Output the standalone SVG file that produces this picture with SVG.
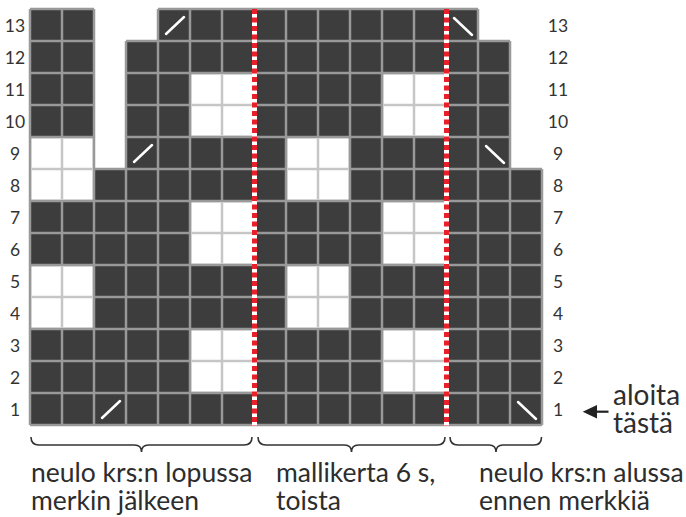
<svg xmlns="http://www.w3.org/2000/svg" xmlns:xlink="http://www.w3.org/1999/xlink" width="686" height="517" viewBox="0 0 686 517">
<style>
.num{font-family:Lato,"Liberation Sans",sans-serif;font-size:17.5px;fill:#333;text-anchor:middle}
.cap{font-family:Lato,"Liberation Sans",sans-serif;font-size:26.5px;fill:#2d2d2d}
.start{font-size:28px}
.grid{fill:none;stroke:#999;stroke-width:2.5}
.sl{stroke:#fff;stroke-width:2.5;stroke-linecap:round;fill:none}
.brace{fill:none;stroke:#333;stroke-width:1.6}
</style>
<defs>
<g id="wb">
<rect x="1.25" y="1.25" width="61.5" height="61.5" fill="#fff"/>
<path d="M32 1.25V62.75M1.25 32H62.75" stroke="#c6c6c6" stroke-width="2.5" fill="none"/>
</g>
<path id="fs" class="sl" d="M8 25L26 8"/>
<path id="bs" class="sl" d="M8 9L26 26"/>
</defs>
<rect width="686" height="517" fill="#fff"/>
<g id="chart">
<path id="knit-area" fill="#3d3d3d" d="M30 9H94V169H126V41H158V9H478V41H510V169H542V425H30Z"/>
<path id="grid-lines" class="grid" d="M30 9H94M158 9H478M30 41H94M126 41H510M30 73H94M126 73H510M30 105H94M126 105H510M30 137H94M126 137H510M30 169H542M30 201H542M30 233H542M30 265H542M30 297H542M30 329H542M30 361H542M30 393H542M30 425H542M30 9V425M62 9V425M94 9V425M126 41V425M158 9V425M190 9V425M222 9V425M254 9V425M286 9V425M318 9V425M350 9V425M382 9V425M414 9V425M446 9V425M478 9V425M510 41V425M542 169V425"/>
<g id="white-blocks">
<use xlink:href="#wb" x="190" y="73"/>
<use xlink:href="#wb" x="382" y="73"/>
<use xlink:href="#wb" x="30" y="137"/>
<use xlink:href="#wb" x="286" y="137"/>
<use xlink:href="#wb" x="190" y="201"/>
<use xlink:href="#wb" x="382" y="201"/>
<use xlink:href="#wb" x="30" y="265"/>
<use xlink:href="#wb" x="286" y="265"/>
<use xlink:href="#wb" x="190" y="329"/>
<use xlink:href="#wb" x="382" y="329"/>
</g>
<g id="decreases">
<use xlink:href="#fs" x="158" y="9"/>
<use xlink:href="#fs" x="126" y="137"/>
<use xlink:href="#fs" x="94" y="393"/>
<use xlink:href="#bs" x="446" y="9"/>
<use xlink:href="#bs" x="478" y="137"/>
<use xlink:href="#bs" x="510" y="393"/>
</g>
<g id="repeat-markers">
<path d="M254.5 9V426M446.5 9V426" stroke="#fff" stroke-width="5"/>
<path d="M254.5 9V426M446.5 9V426" stroke="#e8202a" stroke-width="5" stroke-dasharray="5 3.5"/>
</g>
</g>
<g id="row-labels">
<text class="num" x="15" y="32">13</text><text class="num" x="558" y="32">13</text>
<text class="num" x="15" y="64">12</text><text class="num" x="558" y="64">12</text>
<text class="num" x="15" y="96">11</text><text class="num" x="558" y="96">11</text>
<text class="num" x="15" y="128">10</text><text class="num" x="558" y="128">10</text>
<text class="num" x="15" y="160">9</text><text class="num" x="558" y="160">9</text>
<text class="num" x="15" y="192">8</text><text class="num" x="558" y="192">8</text>
<text class="num" x="15" y="224">7</text><text class="num" x="558" y="224">7</text>
<text class="num" x="15" y="256">6</text><text class="num" x="558" y="256">6</text>
<text class="num" x="15" y="288">5</text><text class="num" x="558" y="288">5</text>
<text class="num" x="15" y="320">4</text><text class="num" x="558" y="320">4</text>
<text class="num" x="15" y="352">3</text><text class="num" x="558" y="352">3</text>
<text class="num" x="15" y="384">2</text><text class="num" x="558" y="384">2</text>
<text class="num" x="15" y="416">1</text><text class="num" x="558" y="416">1</text>
</g>
<g id="connectors">
<path class="brace" d="M31 437Q31 445 39 445H134.5Q141.5 445 141.5 452Q141.5 445 148.5 445H244Q252 445 252 437"/>
<path class="brace" d="M258 437Q258 445 266 445H344.5Q351.5 445 351.5 452Q351.5 445 358.5 445H437Q445 445 445 437"/>
<path class="brace" d="M450 437Q450 445 458 445H489Q496 445 496 452Q496 445 503 445H534Q541.5 445 541.5 437"/>
<g id="start-arrow">
<path d="M597 411.7H608.5" stroke="#222" stroke-width="2.2"/>
<path d="M582.7 411.7L597 405V418.4Z" fill="#222"/>
</g>
</g>
<g id="captions">
<text class="cap" x="31" y="482">neulo krs:n lopussa</text>
<text class="cap" x="31" y="510">merkin jälkeen</text>
<text class="cap" x="276" y="482">mallikerta 6 s,</text>
<text class="cap" x="276" y="510">toista</text>
<text class="cap" x="479" y="482">neulo krs:n alussa</text>
<text class="cap" x="479" y="510">ennen merkkiä</text>
<text class="cap start" x="613" y="405">aloita</text>
<text class="cap start" x="613" y="433">tästä</text>
</g>
</svg>
